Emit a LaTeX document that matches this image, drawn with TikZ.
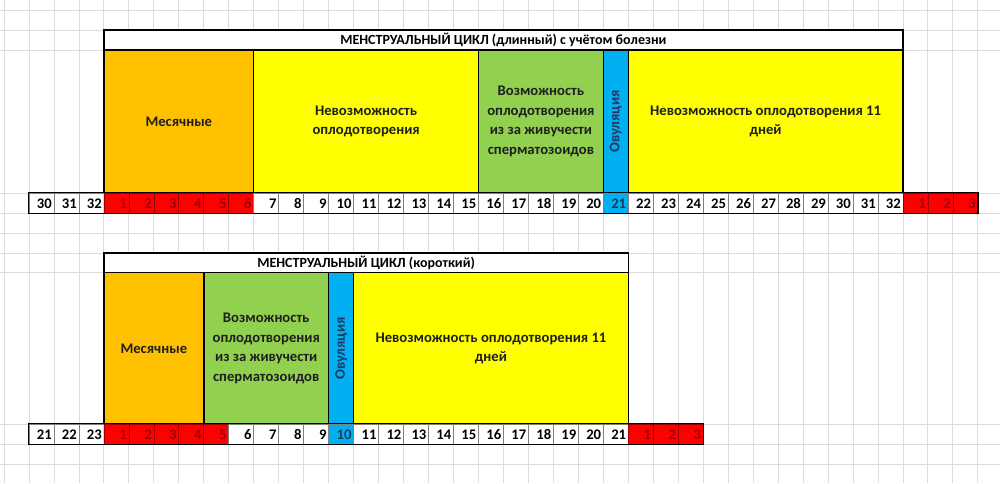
\documentclass[tikz,border=0pt]{standalone}
\usepackage{fontspec}
\setmainfont{Carlito}[Numbers={Lining,Monospaced}]
\definecolor{menorange}{HTML}{FFC000}
\definecolor{nofert}{HTML}{FFFF00}
\definecolor{fertgreen}{HTML}{92D050}
\definecolor{ovblue}{HTML}{00B0F0}
\definecolor{menred}{HTML}{FF0000}
\definecolor{redtext}{HTML}{9C0006}
\definecolor{ovtext}{HTML}{1F3864}
\definecolor{sheetgrid}{HTML}{DCDCDC}

\begin{document}
\begin{tikzpicture}[x=0.75pt,y=-0.75pt,
    sheetline/.style={draw=sheetgrid, line width=0.6pt},
    phase/.style={draw=black, line width=1.1pt},
    phasetext/.style={font=\fontsize{11}{14.6}\selectfont\bfseries, text=black!88, align=center},
    titletext/.style={font=\fontsize{10.5}{13}\selectfont\bfseries},
    daycell/.style={draw=black!50, line width=0.5pt, minimum width=18.73pt, minimum height=15pt,
      text width=15.5pt, text height=7.6pt, text depth=0pt, align=right, inner xsep=1.6pt, inner ysep=0pt,
      font=\fontsize{11}{13}\selectfont\bfseries},
    redday/.style={daycell, fill=menred, draw=red!60!black, text=redtext},
    blueday/.style={daycell, fill=ovblue, text=ovtext},
  ]
  \useasboundingbox (0,0) rectangle (1000,483);
  \fill[white] (0,0) rectangle (1000,483);

  % spreadsheet grid
  \foreach \k in {0,...,40}
    \draw[sheetline] ({4+24.97*\k},0) -- ({4+24.97*\k},483);
  \foreach \r in {10,30,50,193,213,233,253,272.5,424,444,464}
    \draw[sheetline] (0,\r) -- (1000,\r);

  % long cycle
  \draw[phase, fill=white] ({29+24.97*3},30) rectangle ({29+24.97*35},50);
  \node[titletext] (title1) at ({29+24.97*19},40) {МЕНСТРУАЛЬНЫЙ ЦИКЛ (длинный) с учётом болезни};

  \draw[phase, fill=menorange] ({29+24.97*3},50) rectangle ({29+24.97*9},193);
  \node[phasetext] (mens1) at ({29+24.97*6},121.5) {Месячные};
  \draw[phase, fill=nofert] ({29+24.97*9},50) rectangle ({29+24.97*18},193);
  \node[phasetext] (early1) at ({29+24.97*13.5},121.5) {Невозможность\\оплодотворения};
  \draw[phase, fill=fertgreen] ({29+24.97*18},50) rectangle ({29+24.97*23},193);
  \node[phasetext] (fert1) at ({29+24.97*20.5},121.5) {Возможность\\оплодотворения\\из за живучести\\сперматозоидов};
  \draw[phase, fill=ovblue] ({29+24.97*23},50) rectangle ({29+24.97*24},193);
  \node[phasetext, text=ovtext, rotate=90] (ovul1) at ({29+24.97*23.5},121.5) {Овуляция};
  \draw[phase, fill=nofert] ({29+24.97*24},50) rectangle ({29+24.97*35},193);
  \node[phasetext] (late1) at ({29+24.97*29.5},121.5) {Невозможность оплодотворения 11\\дней};

  \foreach \n [count=\k from 0] in {30,31,32}
    \node[daycell] (a\k) at ({29+24.97*(\k+0.5)},203) {\n};
  \foreach \n [count=\k from 3] in {1,...,6}
    \node[redday] (a\k) at ({29+24.97*(\k+0.5)},203) {\n};
  \foreach \n [count=\k from 9] in {7,...,20}
    \node[daycell] (a\k) at ({29+24.97*(\k+0.5)},203) {\n};
  \node[blueday] (a23) at ({29+24.97*23.5},203) {21};
  \foreach \n [count=\k from 24] in {22,...,32}
    \node[daycell] (a\k) at ({29+24.97*(\k+0.5)},203) {\n};
  \foreach \n [count=\k from 35] in {1,2,3}
    \node[redday] (a\k) at ({29+24.97*(\k+0.5)},203) {\n};
  \draw[phase] (a0.north west) rectangle (a37.south east);

  % short cycle
  \draw[phase, fill=white] ({29+24.97*3},253) rectangle ({29+24.97*24},272.5);
  \node[titletext] (title2) at ({29+24.97*13.5},262.7) {МЕНСТРУАЛЬНЫЙ ЦИКЛ (короткий)};

  \draw[phase, fill=menorange] ({29+24.97*3},272.5) rectangle ({29+24.97*7},424);
  \node[phasetext] (mens2) at ({29+24.97*5},348.5) {Месячные};
  \draw[phase, fill=fertgreen] ({29+24.97*7},272.5) rectangle ({29+24.97*12},424);
  \node[phasetext] (fert2) at ({29+24.97*9.5},348.5) {Возможность\\оплодотворения\\из за живучести\\сперматозоидов};
  \draw[phase, fill=ovblue] ({29+24.97*12},272.5) rectangle ({29+24.97*13},424);
  \node[phasetext, text=ovtext, rotate=90] (ovul2) at ({29+24.97*12.5},348.5) {Овуляция};
  \draw[phase, fill=nofert] ({29+24.97*13},272.5) rectangle ({29+24.97*24},424);
  \node[phasetext] (late2) at ({29+24.97*18.5},348.5) {Невозможность оплодотворения 11\\дней};

  \foreach \n [count=\k from 0] in {21,22,23}
    \node[daycell] (b\k) at ({29+24.97*(\k+0.5)},434) {\n};
  \foreach \n [count=\k from 3] in {1,...,5}
    \node[redday] (b\k) at ({29+24.97*(\k+0.5)},434) {\n};
  \foreach \n [count=\k from 8] in {6,...,9}
    \node[daycell] (b\k) at ({29+24.97*(\k+0.5)},434) {\n};
  \node[blueday] (b12) at ({29+24.97*12.5},434) {10};
  \foreach \n [count=\k from 13] in {11,...,21}
    \node[daycell] (b\k) at ({29+24.97*(\k+0.5)},434) {\n};
  \foreach \n [count=\k from 24] in {1,2,3}
    \node[redday] (b\k) at ({29+24.97*(\k+0.5)},434) {\n};
  \draw[phase] (b0.north west) rectangle (b26.south east);
\end{tikzpicture}
\end{document}
